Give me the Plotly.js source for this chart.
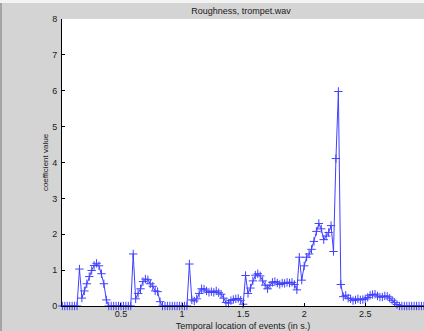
<!DOCTYPE html>
<html>
<head>
<meta charset="utf-8">
<script src="https://cdn.plot.ly/plotly-3.0.1.min.js"></script>
<style>
  html, body { margin: 0; padding: 0; background: #d4d4d4; }
  #chart { width: 424px; height: 331px; }
</style>
</head>
<body>
<div id="chart"></div>
<script>
// Frame times (s) of the roughness analysis
const times = [
  0.02, 0.04, 0.06, 0.08, 0.10, 0.12, 0.14, 0.16, 0.18, 0.20,
  0.22, 0.24, 0.26, 0.28, 0.30, 0.32, 0.34, 0.36, 0.38, 0.40,
  0.42, 0.44, 0.46, 0.48, 0.50, 0.52, 0.54, 0.56, 0.58, 0.60,
  0.62, 0.64, 0.66, 0.68, 0.70, 0.72, 0.74, 0.76, 0.78, 0.80,
  0.82, 0.84, 0.86, 0.88, 0.90, 0.92, 0.94, 0.96, 0.98, 1.00,
  1.02, 1.04, 1.06, 1.08, 1.10, 1.12, 1.14, 1.16, 1.18, 1.20,
  1.22, 1.24, 1.26, 1.28, 1.30, 1.32, 1.34, 1.36, 1.38, 1.40,
  1.42, 1.44, 1.46, 1.48, 1.50, 1.52, 1.54, 1.56, 1.58, 1.60,
  1.62, 1.64, 1.66, 1.68, 1.70, 1.72, 1.74, 1.76, 1.78, 1.80,
  1.82, 1.84, 1.86, 1.88, 1.90, 1.92, 1.94, 1.96, 1.98, 2.00,
  2.02, 2.04, 2.06, 2.08, 2.10, 2.12, 2.14, 2.16, 2.18, 2.20,
  2.22, 2.24, 2.26, 2.28, 2.30, 2.32, 2.34, 2.36, 2.38, 2.40,
  2.42, 2.44, 2.46, 2.48, 2.50, 2.52, 2.54, 2.56, 2.58, 2.60,
  2.62, 2.64, 2.66, 2.68, 2.70, 2.72, 2.74, 2.76, 2.78, 2.80,
  2.82, 2.84, 2.86, 2.88, 2.90, 2.92, 2.94, 2.96, 2.98
];

// Roughness coefficient per frame
const roughness = [
  0, 0, 0, 0, 0, 0, 0, 1.03, 0.22, 0.42,
  0.62, 0.82, 0.99, 1.13, 1.19, 1.12, 0.90, 0.62, 0.17, 0,
  0, 0, 0, 0, 0, 0, 0, 0, 0, 1.45,
  0.20, 0.35, 0.48, 0.68, 0.75, 0.73, 0.62, 0.55, 0.42, 0.40,
  0.12, 0, 0, 0, 0, 0, 0, 0, 0, 0,
  0, 0, 1.17, 0.17, 0.14, 0.20, 0.35, 0.48, 0.47, 0.42,
  0.38, 0.40, 0.38, 0.42, 0.37, 0.33, 0.22, 0.10, 0.08, 0.15,
  0.18, 0.20, 0.21, 0.16, 0.05, 0.85, 0.35, 0.50, 0.70, 0.86,
  0.90, 0.84, 0.70, 0.58, 0.48, 0.58, 0.66, 0.68, 0.64, 0.60,
  0.64, 0.63, 0.66, 0.64, 0.66, 0.60, 0.45, 1.36, 0.72, 1.12,
  1.36, 1.45, 1.58, 1.80, 2.08, 2.30, 2.15, 1.85, 1.95, 2.05,
  2.24, 1.52, 4.11, 5.98, 0.60, 0.26, 0.30, 0.22, 0.20, 0.15,
  0.17, 0.20, 0.17, 0.18, 0.20, 0.24, 0.30, 0.32, 0.33, 0.28,
  0.25, 0.25, 0.28, 0.27, 0.22, 0.16, 0.10, 0.04, 0, 0,
  0, 0, 0, 0, 0, 0, 0, 0, 0
];

// Axis ticks
const xTickVals = [0.5, 1, 1.5, 2, 2.5];
const xTickText = ['0.5', '1', '1.5', '2', '2.5'];
const yTickVals = [0, 1, 2, 3, 4, 5, 6, 7, 8];
const yTickText = ['0', '1', '2', '3', '4', '5', '6', '7', '8'];

const FONT = 'Liberation Sans, Arial, sans-serif';
const BLUE = 'rgb(64,64,255)';
const INK = '#1a1a1a';

const trace = {
  type: 'scatter',
  mode: 'lines+markers',
  x: times,
  y: roughness,
  line: { color: BLUE, width: 1 },
  marker: { symbol: 'cross-thin-open', size: 6, line: { color: BLUE, width: 1 } },
  cliponaxis: false,
  hoverinfo: 'x+y'
};

const layout = {
  width: 424,
  height: 331,
  margin: { l: 62, r: 0, t: 19, b: 25, pad: 0 },
  paper_bgcolor: '#d4d4d4',
  plot_bgcolor: '#ffffff',
  showlegend: false,
  font: { family: FONT, size: 9, color: INK },
  title: {
    text: 'Roughness, trompet.wav',
    font: { family: FONT, size: 9, color: INK },
    x: 241 / 424, xref: 'container', xanchor: 'center',
    y: 1 - 10.5 / 331, yref: 'container', yanchor: 'middle'
  },
  xaxis: {
    range: [0.017, 2.981],
    tickmode: 'array', tickvals: xTickVals, ticktext: xTickText,
    ticks: 'inside', ticklen: 3, tickwidth: 1, tickcolor: '#000',
    ticklabelstandoff: -1,
    showline: true, linecolor: '#000', linewidth: 1, mirror: false,
    showgrid: false, zeroline: false,
    tickfont: { family: FONT, size: 9, color: INK },
    title: { text: 'Temporal location of events (in s.)', font: { family: FONT, size: 9, color: INK }, standoff: 4 },
    automargin: false
  },
  yaxis: {
    range: [0, 8],
    tickmode: 'array', tickvals: yTickVals, ticktext: yTickText,
    ticks: 'inside', ticklen: 3, tickwidth: 1, tickcolor: '#000',
    ticklabelstandoff: 2,
    showline: true, linecolor: '#000', linewidth: 1, mirror: false,
    showgrid: false, zeroline: false,
    tickfont: { family: FONT, size: 9, color: INK },
    title: { text: 'coefficient value', font: { family: FONT, size: 8, color: INK }, standoff: 2 },
    automargin: false
  },
  shapes: [
    // window edge strip on the left and top highlight
    { type: 'rect', xref: 'paper', yref: 'paper', x0: -62 / 362, x1: -60 / 362, y0: -25 / 287, y1: 306 / 287,
      fillcolor: '#a4a4a4', line: { width: 0 }, layer: 'above' },
    { type: 'rect', xref: 'paper', yref: 'paper', x0: -62 / 362, x1: 1, y0: 303 / 287, y1: 306 / 287,
      fillcolor: '#f4f4f4', line: { width: 0 }, layer: 'above' }
  ]
};

Plotly.newPlot('chart', [trace], layout, { displayModeBar: false, staticPlot: true });
</script>
</body>
</html>
